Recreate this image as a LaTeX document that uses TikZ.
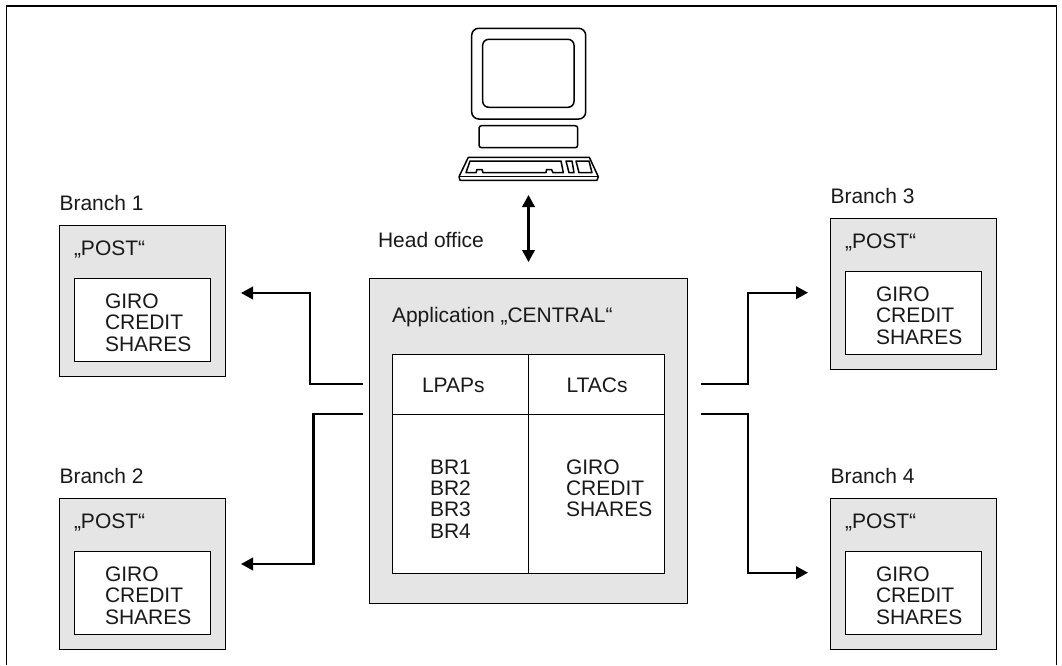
\documentclass[tikz,border=0pt]{standalone}
\usepackage{fontspec}
\setmainfont{Liberation Sans}
\usetikzlibrary{arrows.meta}
\definecolor{panelgray}{HTML}{E5E5E5}
\tikzset{
  x=1pt,y=-1pt,
  lbl/.style={anchor=base west,inner sep=0pt,outer sep=0pt,font=\fontsize{21}{21.6}\selectfont,text=black!90},
  panel/.style={draw=black,line width=1.2pt,fill=panelgray,inner sep=0pt,outer sep=0pt,anchor=north west,rectangle},
  whitebox/.style={draw=black,line width=1.2pt,fill=white,inner sep=0pt,outer sep=0pt,anchor=north west,rectangle},
  conn/.style={draw=black,line width=2.2pt,-{Triangle[length=12pt,width=12.5pt]}},
  conn2/.style={draw=black,line width=2.2pt,{Triangle[length=12pt,width=12.5pt]}-{Triangle[length=12pt,width=12.5pt]}},
  pc/.style={draw=black,line width=1.5pt,line join=round},
  frameline/.style={draw=black,line width=1.2pt}
}
\newcommand{\branch}[4]{%
  % #1 name, #2 x, #3 y of outer top, #4 label
  \node[lbl] (#1label) at (#2,#3-15.5) {#4};
  \node[panel,minimum width=166pt,minimum height=151pt] (#1) at (#2,#3) {};
  \node[lbl] (#1post) at (#2+14.5,#3+29.5) {„POST“};
  \node[whitebox,minimum width=136pt,minimum height=83pt] (#1inner) at (#2+15,#3+53) {};
  \node[lbl] (#1g) at (#2+45.5,#3+82.7) {GIRO};
  \node[lbl] (#1c) at (#2+45.5,#3+104.4) {CREDIT};
  \node[lbl] (#1s) at (#2+45.5,#3+126) {SHARES};
}
\begin{document}
\begin{tikzpicture}
\useasboundingbox (0,0) rectangle (1062,665);
\draw[frameline] (6.5,665) -- (6.5,6) -- (1056.7,6) -- (1056.7,665);

% computer
\draw[pc,rounded corners=7pt] (471.7,28.3) rectangle (585.7,119);
\draw[pc,rounded corners=6pt] (482.7,39.3) rectangle (574,107.3);
\draw[pc,rounded corners=2.5pt] (479,125.7) rectangle (577.7,147.7);
\draw[pc] (468.3,157.3) -- (589.3,157.3) -- (598.3,176.7) -- (597,180.3) -- (460,180.3) -- (459,176.7) -- cycle;
\draw[pc] (459,176.7) -- (598.3,176.7);
\draw[pc] (470,161) -- (561,161) -- (563.3,172.7) -- (553,172.7) -- (551.5,169.5) -- (546.5,169.5) -- (546,172.7) -- (483,172.7) -- (482,169.5) -- (477,169.5) -- (476,172.7) -- (466,172.7) -- cycle;
\draw[pc] (566,161) -- (572,161) -- (574,172.7) -- (569,172.7) -- cycle;
\draw[pc] (576,161) -- (589,161) -- (592,172.7) -- (579,172.7) -- cycle;

% central
\node[panel,minimum width=318pt,minimum height=325pt] (central) at (369.5,278.5) {};
\node[lbl] (headoffice) at (378,247.7) {Head office};
\node[lbl] (apptitle) at (392,322) {Application „CENTRAL“};
\node[whitebox,minimum width=272pt,minimum height=219pt] (table) at (392.5,354.5) {};
\coordinate (tabletop) at (528.5,354.5);
\coordinate (tablebot) at (528.5,573.5);
\coordinate (rowl) at (392.5,414.5);
\coordinate (rowr) at (664.5,414.5);
\draw[frameline] (tabletop) -- (tablebot);
\draw[frameline] (rowl) -- (rowr);
\node[lbl] (lpaps) at (422,392) {LPAPs};
\node[lbl] (ltacs) at (566.5,392) {LTACs};
\node[lbl] (br1) at (430,474) {BR1};
\node[lbl] (br2) at (430,495) {BR2};
\node[lbl] (br3) at (430,516.7) {BR3};
\node[lbl] (br4) at (430,538) {BR4};
\node[lbl] (cg) at (566,474) {GIRO};
\node[lbl] (cc) at (566,495.3) {CREDIT};
\node[lbl] (cs) at (566,516.7) {SHARES};

% branches
\branch{bone}{59.5}{225.5}{Branch 1}
\branch{btwo}{59.5}{498.5}{Branch 2}
\branch{bthree}{830.5}{218.5}{Branch 3}
\branch{bfour}{830.5}{498.5}{Branch 4}

% connectors
\coordinate (pcport) at (528.5,195);
\coordinate (cenport) at (528.5,262);
\coordinate (ol1) at (363,383.7);
\coordinate (ol2) at (363,414);
\coordinate (or1) at (701,383.7);
\coordinate (or2) at (701,414);
\coordinate (t1) at (241,293);
\coordinate (t2) at (241,564);
\coordinate (t3) at (808,292.7);
\coordinate (t4) at (808,572.7);
\draw[conn2] (pcport) -- (cenport);
\draw[conn] (ol1) -- (310,383.7) -- (310,293) -- (t1);
\draw[conn] (ol2) -- (313.5,414) -- (313.5,564) -- (t2);
\draw[conn] (or1) -- (748,383.7) -- (748,292.7) -- (t3);
\draw[conn] (or2) -- (748,414) -- (748,572.7) -- (t4);
\end{tikzpicture}
\end{document}
